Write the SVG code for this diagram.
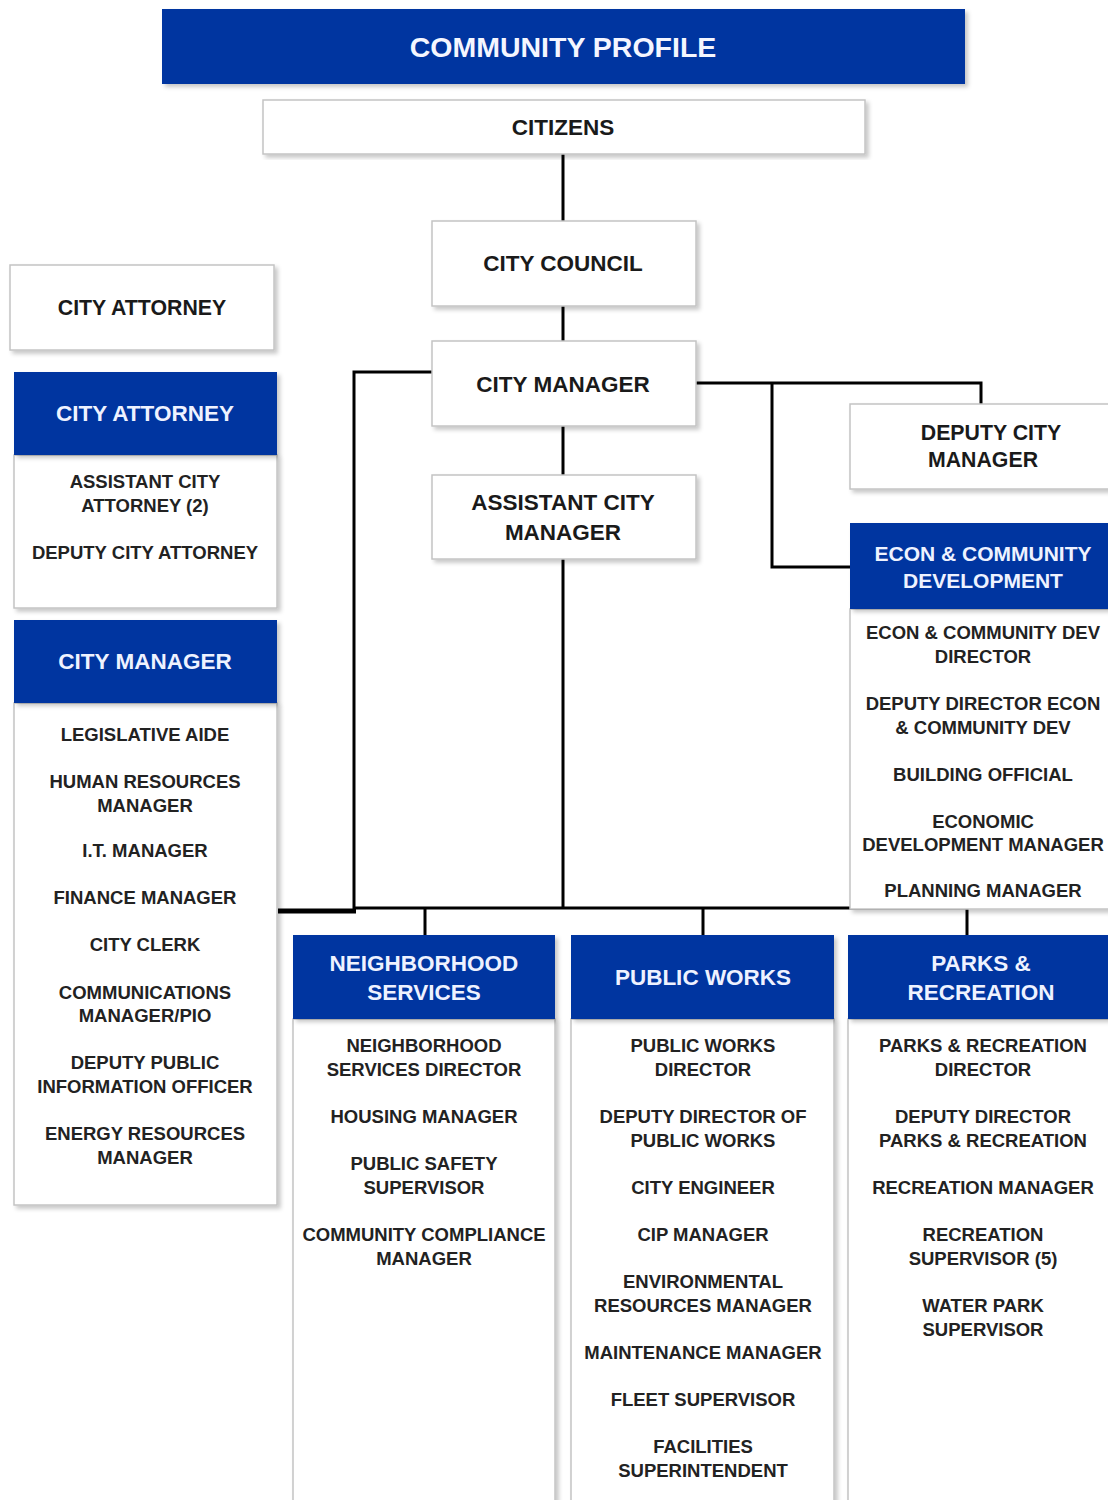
<svg xmlns="http://www.w3.org/2000/svg" width="1108" height="1500" viewBox="0 0 1108 1500">
<defs>
<filter id="sh" x="-5%" y="-5%" width="115%" height="115%">
<feDropShadow dx="3" dy="3" stdDeviation="2" flood-color="#000" flood-opacity="0.22"/>
</filter>
</defs>
<style>
.box{fill:#fff;stroke:#c4c4c4;stroke-width:1.5;filter:url(#sh)}
.hdr{fill:#0536a0;filter:url(#sh)}
.body{fill:#fff;stroke:#c4c4c4;stroke-width:1.5;filter:url(#sh)}
.t{font-family:"Liberation Sans",Arial,sans-serif;font-weight:bold;text-anchor:middle}
.main{font-size:22.5px;fill:#1a1a1a}
.sm{font-size:21.3px;fill:#1a1a1a}
.h{font-size:22.5px;fill:#eef2ff}
.i{font-size:18.5px;fill:#222}
.ln{fill:none;stroke:#000;stroke-width:3}
</style>
<rect width="1108" height="1500" fill="#fff"/>

<g id="connectors">
<path class="ln" d="M563 154 V221 M563 306 V341 M563 426 V475 M563 545 V908"/>
<path class="ln" d="M432 372 H354 V910"/>
<path class="ln" d="M278 911 H356" style="stroke-width:5"/>
<path class="ln" d="M354 908 H968 M425 908 V935 M703 908 V935 M967 908 V935"/>
<path class="ln" d="M696 383 H981 V404 M772 383 V567 H850"/>
</g>

<g id="community-profile">
<rect x="162" y="9" width="803" height="75" fill="#0536a0" filter="url(#sh)"/>
<text class="t" x="563" y="57" font-size="28.5" fill="#f4f6ff">COMMUNITY PROFILE</text>
</g>

<g id="citizens">
<rect class="box" x="263" y="100" width="602" height="54"/>
<text class="t main" x="563" y="135">CITIZENS</text>
</g>

<g id="city-council">
<rect class="box" x="432" y="221" width="264" height="85"/>
<text class="t main" x="563" y="271">CITY COUNCIL</text>
</g>

<g id="city-manager">
<rect class="box" x="432" y="341" width="264" height="85"/>
<text class="t main" x="563" y="392">CITY MANAGER</text>
</g>

<g id="assistant-city-manager">
<rect class="box" x="432" y="475" width="264" height="84"/>
<text class="t main" x="563" y="510">ASSISTANT CITY</text>
<text class="t main" x="563" y="540">MANAGER</text>
</g>

<g id="city-attorney-top">
<rect class="box" x="10" y="265" width="264" height="85"/>
<text class="t sm" x="142" y="315">CITY ATTORNEY</text>
</g>

<g id="deputy-city-manager">
<rect class="box" x="850" y="404" width="262" height="85"/>
<text class="t sm" x="991" y="440">DEPUTY CITY</text>
<text class="t sm" x="983" y="467">MANAGER</text>
</g>

<g id="city-attorney-card">
<rect class="body" x="14" y="455" width="263" height="153"/>
<rect class="hdr" x="14" y="372" width="263" height="83"/>
<text class="t h" x="145" y="421">CITY ATTORNEY</text>
<text class="t i" x="145" y="488">ASSISTANT CITY</text>
<text class="t i" x="145" y="512">ATTORNEY (2)</text>
<text class="t i" x="145" y="559">DEPUTY CITY ATTORNEY</text>
</g>

<g id="city-manager-card">
<rect class="body" x="14" y="703" width="263" height="502"/>
<rect class="hdr" x="14" y="620" width="263" height="83"/>
<text class="t h" x="145" y="669">CITY MANAGER</text>
<text class="t i" x="145" y="741">LEGISLATIVE AIDE</text>
<text class="t i" x="145" y="788">HUMAN RESOURCES</text>
<text class="t i" x="145" y="812">MANAGER</text>
<text class="t i" x="145" y="857">I.T. MANAGER</text>
<text class="t i" x="145" y="904">FINANCE MANAGER</text>
<text class="t i" x="145" y="951">CITY CLERK</text>
<text class="t i" x="145" y="999">COMMUNICATIONS</text>
<text class="t i" x="145" y="1022">MANAGER/PIO</text>
<text class="t i" x="145" y="1069">DEPUTY PUBLIC</text>
<text class="t i" x="145" y="1093">INFORMATION OFFICER</text>
<text class="t i" x="145" y="1140">ENERGY RESOURCES</text>
<text class="t i" x="145" y="1164">MANAGER</text>
</g>

<g id="econ-card">
<rect class="body" x="850" y="609" width="262" height="300"/>
<rect class="hdr" x="850" y="523" width="262" height="86"/>
<text class="t" x="983" y="561" font-size="21" fill="#eef2ff">ECON &amp; COMMUNITY</text>
<text class="t" x="983" y="588" font-size="21" fill="#eef2ff">DEVELOPMENT</text>
<text class="t i" x="983" y="639">ECON &amp; COMMUNITY DEV</text>
<text class="t i" x="983" y="663">DIRECTOR</text>
<text class="t i" x="983" y="710">DEPUTY DIRECTOR ECON</text>
<text class="t i" x="983" y="734">&amp; COMMUNITY DEV</text>
<text class="t i" x="983" y="781">BUILDING OFFICIAL</text>
<text class="t i" x="983" y="828">ECONOMIC</text>
<text class="t i" x="983" y="851">DEVELOPMENT MANAGER</text>
<text class="t i" x="983" y="897">PLANNING MANAGER</text>
</g>

<g id="neighborhood-card">
<rect class="body" x="293" y="1019" width="262" height="495"/>
<rect class="hdr" x="293" y="935" width="262" height="84"/>
<text class="t h" x="424" y="971">NEIGHBORHOOD</text>
<text class="t h" x="424" y="1000">SERVICES</text>
<text class="t i" x="424" y="1052">NEIGHBORHOOD</text>
<text class="t i" x="424" y="1076">SERVICES DIRECTOR</text>
<text class="t i" x="424" y="1123">HOUSING MANAGER</text>
<text class="t i" x="424" y="1170">PUBLIC SAFETY</text>
<text class="t i" x="424" y="1194">SUPERVISOR</text>
<text class="t i" x="424" y="1241">COMMUNITY COMPLIANCE</text>
<text class="t i" x="424" y="1265">MANAGER</text>
</g>

<g id="public-works-card">
<rect class="body" x="571" y="1019" width="263" height="495"/>
<rect class="hdr" x="571" y="935" width="263" height="84"/>
<text class="t h" x="703" y="985">PUBLIC WORKS</text>
<text class="t i" x="703" y="1052">PUBLIC WORKS</text>
<text class="t i" x="703" y="1076">DIRECTOR</text>
<text class="t i" x="703" y="1123">DEPUTY DIRECTOR OF</text>
<text class="t i" x="703" y="1147">PUBLIC WORKS</text>
<text class="t i" x="703" y="1194">CITY ENGINEER</text>
<text class="t i" x="703" y="1241">CIP MANAGER</text>
<text class="t i" x="703" y="1288">ENVIRONMENTAL</text>
<text class="t i" x="703" y="1312">RESOURCES MANAGER</text>
<text class="t i" x="703" y="1359">MAINTENANCE MANAGER</text>
<text class="t i" x="703" y="1406">FLEET SUPERVISOR</text>
<text class="t i" x="703" y="1453">FACILITIES</text>
<text class="t i" x="703" y="1477">SUPERINTENDENT</text>
</g>

<g id="parks-card">
<rect class="body" x="848" y="1019" width="264" height="495"/>
<rect class="hdr" x="848" y="935" width="264" height="84"/>
<text class="t h" x="981" y="971">PARKS &amp;</text>
<text class="t h" x="981" y="1000">RECREATION</text>
<text class="t i" x="983" y="1052">PARKS &amp; RECREATION</text>
<text class="t i" x="983" y="1076">DIRECTOR</text>
<text class="t i" x="983" y="1123">DEPUTY DIRECTOR</text>
<text class="t i" x="983" y="1147">PARKS &amp; RECREATION</text>
<text class="t i" x="983" y="1194">RECREATION MANAGER</text>
<text class="t i" x="983" y="1241">RECREATION</text>
<text class="t i" x="983" y="1265">SUPERVISOR (5)</text>
<text class="t i" x="983" y="1312">WATER PARK</text>
<text class="t i" x="983" y="1336">SUPERVISOR</text>
</g>
</svg>
